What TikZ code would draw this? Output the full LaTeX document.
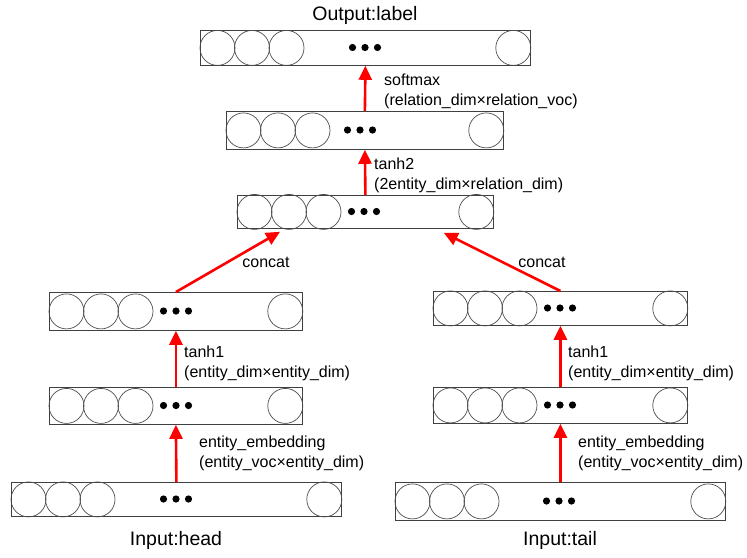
\documentclass[tikz,border=0pt]{standalone}
\usepackage{fontspec}
\setmainfont{Liberation Sans}
\usetikzlibrary{arrows.meta,calc}
\tikzset{
  layer/.style={draw=black!75, line width=0.8pt, inner sep=0pt, anchor=north west},
  neuron/.style={draw=black!70, line width=0.7pt},
  dotfill/.style={fill=black},
  arr/.style={draw=red, line width=2.6pt, -{Triangle[width=13pt,length=14pt]}},
  small/.style={font=\fontsize{16}{20}\selectfont, align=left, inner sep=0pt},
  title/.style={font=\fontsize{19.5}{22}\selectfont, inner sep=0pt}
}
\newcommand{\nnlayer}[6]{%
  \node[layer, minimum width={#4-#2}, minimum height={#5-#3}] (#1) at (#2,#3) {};
  \foreach \k in {0,1,2}
    \draw[neuron] ([xshift={17.5pt+34.5pt*\k}]#1.west) circle (17.5pt);
  \draw[neuron] ([xshift=-17.5pt]#1.east) circle (17.5pt);
  \foreach \k in {-1,0,1}
    \fill[dotfill] ({#6+12.5*\k},{(#3+#5)/2}) circle (3.6pt);
}
\begin{document}
\begin{tikzpicture}[x=1pt,y=-1pt]
\useasboundingbox (0,0) rectangle (747,557);
% layers
\nnlayer{out}{200}{30}{530}{65}{365}
\nnlayer{rel}{226}{111}{503}{149}{360}
\nnlayer{cat}{237}{195}{493}{228}{364}
\nnlayer{hb}{49}{292}{302}{330}{176}
\nnlayer{ha}{49}{387}{302}{424}{176}
\nnlayer{hin}{11}{482}{341}{516}{176}
\nnlayer{tb}{433}{291}{687}{325}{560}
\nnlayer{ta}{433}{387}{687}{423}{560}
\nnlayer{tin}{395}{482}{725}{520}{559}
% titles
\node[title] (tout) at (365,15) {Output:label};
\node[title] (thead) at (176,540) {Input:head};
\node[title] (ttail) at (560,540) {Input:tail};
% connectors
\coordinate (cl) at ([xshift=43pt,yshift=-3pt]cat.south west);
\coordinate (cr) at ([xshift=-50pt,yshift=-4pt]cat.south east);
\draw[arr] (rel.north) -- (out.south);
\draw[arr] (cat.north) -- (rel.south);
\draw[arr] (hb.north) -- (cl);
\draw[arr] (tb.north) -- (cr);
\draw[arr] (ha.north) -- (hb.south);
\draw[arr] (hin.north) -- (ha.south);
\draw[arr] (ta.north) -- (tb.south);
\draw[arr] (tin.north) -- (ta.south);
% labels
\node[small, anchor=west] (lsoft) at (384,91) {softmax\\(relation\_dim×relation\_voc)};
\node[small, anchor=west] (ltanh2) at (374,175) {tanh2\\(2entity\_dim×relation\_dim)};
\node[small] (lcl) at (266,262) {concat};
\node[small] (lcr) at (542,262) {concat};
\node[small, anchor=west] (lth) at (184,363) {tanh1\\(entity\_dim×entity\_dim)};
\node[small, anchor=west] (ltt) at (568,363) {tanh1\\(entity\_dim×entity\_dim)};
\node[small, anchor=west] (leh) at (199,453) {entity\_embedding\\(entity\_voc×entity\_dim)};
\node[small, anchor=west] (let) at (578,453) {entity\_embedding\\(entity\_voc×entity\_dim)};
\end{tikzpicture}
\end{document}
